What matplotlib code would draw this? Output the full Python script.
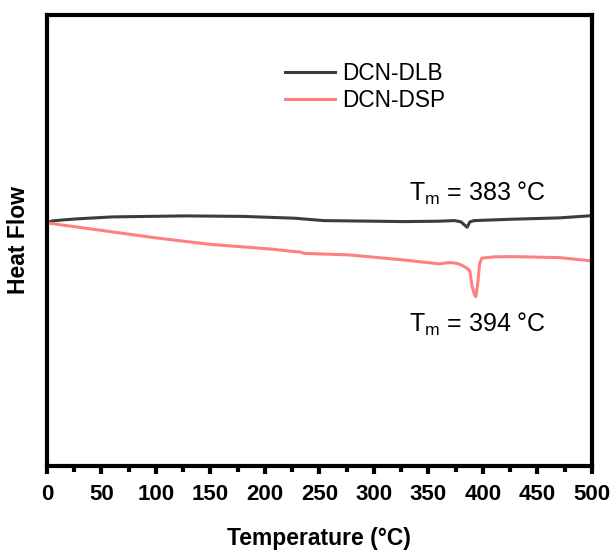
import matplotlib.pyplot as plt
from matplotlib.ticker import MultipleLocator

plt.rcParams['font.family'] = 'Liberation Sans'
plt.rcParams['mathtext.fontset'] = 'custom'
plt.rcParams['mathtext.rm'] = 'Liberation Sans'

# DSC traces (heat flow in arbitrary units)
t_dlb = [0, 5, 15, 27, 60, 127, 180, 227, 254, 300, 327, 360, 374, 380, 383, 385.5, 388, 392, 427, 470, 497, 500]
hf_dlb = [2.43, 2.45, 2.46, 2.47, 2.49, 2.50, 2.495, 2.477, 2.453, 2.447, 2.443, 2.447, 2.453, 2.44, 2.41, 2.387, 2.44, 2.453, 2.467, 2.48, 2.50, 2.505]

t_dsp = [0, 20, 60, 100, 127, 150, 180, 207, 227, 232, 236, 277, 327, 360, 366, 371, 376, 380, 385, 388, 390, 392, 393.5, 395, 397, 399, 410, 427, 470, 500]
hf_dsp = [2.43, 2.40, 2.34, 2.28, 2.245, 2.215, 2.19, 2.167, 2.143, 2.14, 2.125, 2.11, 2.06, 2.02, 2.03, 2.033, 2.025, 2.01, 1.98, 1.95, 1.80, 1.72, 1.693, 1.80, 2.02, 2.077, 2.09, 2.093, 2.083, 2.05]

labels = ['DCN-DLB', 'DCN-DSP']
colors = ['#3c3c3c', '#ff8080']

fig = plt.figure(figsize=(6.14, 5.52), dpi=100)
ax = fig.add_axes([0.0765, 0.156, 0.8875, 0.817])

ax.plot(t_dlb, hf_dlb, color=colors[0], lw=2.2, label=labels[0])
ax.plot(t_dsp, hf_dsp, color=colors[1], lw=2.2, label=labels[1])

ax.set_xlim(0, 500)
ax.set_ylim(0, 4.51)
ax.xaxis.set_major_locator(MultipleLocator(50))
ax.xaxis.set_minor_locator(MultipleLocator(25))
ax.tick_params(axis='x', which='major', direction='out', length=6, width=3, labelsize=16, pad=7)
ax.tick_params(axis='x', which='minor', direction='out', length=4, width=3)
ax.set_yticks([])
for lbl in ax.get_xticklabels():
    lbl.set_fontweight('bold')
for sp in ax.spines.values():
    sp.set_linewidth(3)

ax.set_xlabel('Temperature (°C)', fontsize=16.5, fontweight='bold', labelpad=16)
ax.set_ylabel('Heat Flow', fontsize=16.5, fontweight='bold', labelpad=12)

ax.text(395, 2.72, r'T$_{\mathregular{m}}$ = 383 °C', fontsize=18, ha='center', va='center')
ax.text(395, 1.41, r'T$_{\mathregular{m}}$ = 394 °C', fontsize=18, ha='center', va='center')

ax.legend(loc='upper left', bbox_to_anchor=(0.40, 0.94), frameon=False, fontsize=16.3,
          handlelength=2.2, handletextpad=0.3, labelspacing=0.15)

fig.savefig('out.png', dpi=100)
